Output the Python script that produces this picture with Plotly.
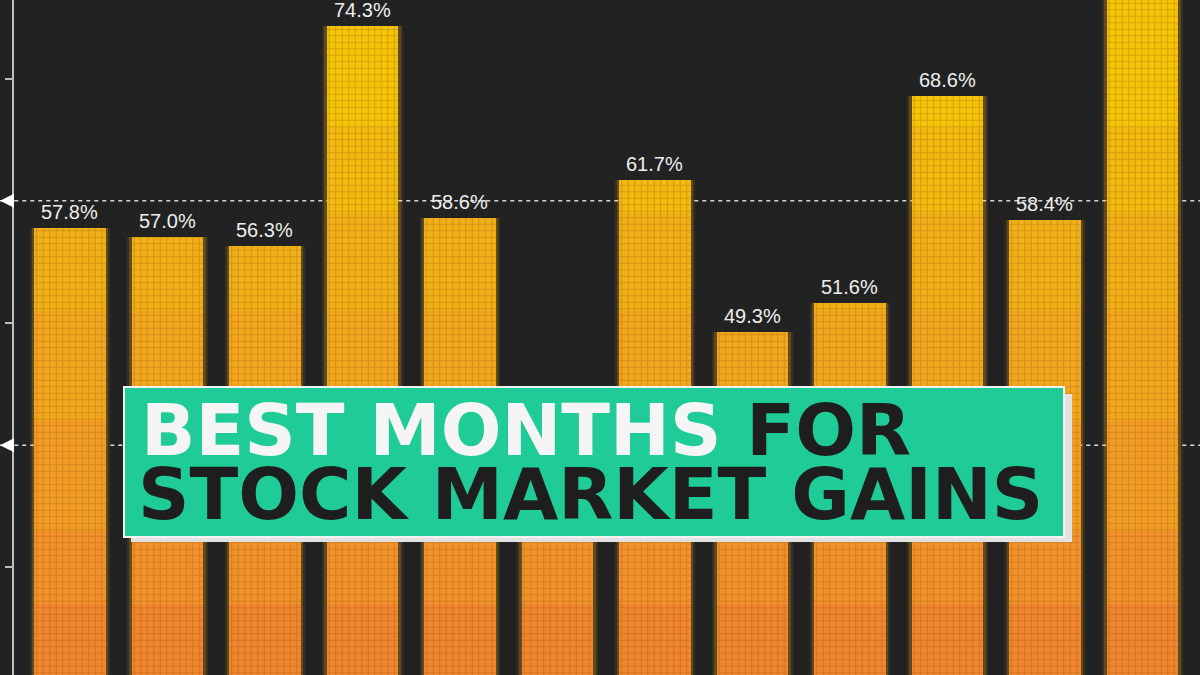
import plotly.graph_objects as go

# ---------------- data ----------------
months = ["Jan", "Feb", "Mar", "Apr", "May", "Jun",
          "Jul", "Aug", "Sep", "Oct", "Nov", "Dec"]
pct_up = [57.8, 57.0, 56.3, 74.3, 58.6, 41.0,
          61.7, 49.3, 51.6, 68.6, 58.4, 79.0]
# labels as visible in the picture (Jun hidden under the title, Dec off the top)
labels = ["57.8%", "57.0%", "56.3%", "74.3%", "58.6%", None,
          "61.7%", "49.3%", "51.6%", "68.6%", "58.4%", None]
ref_lines = [40, 60]
tick_vals = [30, 40, 50, 60, 70]

# ---------------- style ----------------
BG = "#222222"
W, H = 1200, 675
ML = 14
PW = W - ML
Y_RANGE = [21.19, 76.43]
X_RANGE = [-0.574, 11.59]
BAR_W = 0.73

# colour bands (level where each band starts, colour)
BANDS = [(0, "#F0862F"), (27, "#F1922C"), (33, "#F29E26"), (42, "#F1A81F"),
         (51, "#F0B118"), (59, "#F1BB10"), (66, "#F3C508")]


def px_x(px):
    return (px - ML) / PW


def px_y(py):
    return 1 - py / H


fig = go.Figure()

# soft glow behind the bars
for extra, alpha in [(0.10, 0.10), (0.055, 0.22)]:
    fig.add_trace(go.Bar(
        x=months, y=pct_up, width=BAR_W + extra,
        marker=dict(color=f"rgba(245,175,25,{alpha})", line=dict(width=0)),
        hoverinfo="skip", showlegend=False))

for lvl, col in BANDS:
    heights = [max(v - lvl, 0) for v in pct_up]
    fig.add_trace(go.Bar(
        x=months, y=heights, base=lvl, width=BAR_W,
        marker=dict(color=col, line=dict(width=0)),
        hoverinfo="skip", showlegend=False))

# grid pattern overlay
fig.add_trace(go.Bar(
    x=months, y=pct_up, width=BAR_W,
    marker=dict(color="rgba(0,0,0,0)", line=dict(width=0),
                pattern=dict(shape="+", size=6.5, solidity=0.3,
                             fgcolor="rgba(150,70,0,0.6)",
                             bgcolor="rgba(0,0,0,0)", fillmode="overlay")),
    hoverinfo="skip", showlegend=False))

shapes = []
for lv in ref_lines:
    shapes.append(dict(type="line", xref="paper", yref="y", x0=-0.02, x1=1,
                       y0=lv, y1=lv, layer="below",
                       line=dict(color="#D8D8D8", width=1.5, dash="4px,4px")))
    shapes.append(dict(type="path", xref="paper", yref="y",
                       xsizemode="pixel", ysizemode="pixel",
                       xanchor=0, yanchor=lv,
                       path="M 0 -7 L -14 0 L 0 7 Z",
                       fillcolor="#FFFFFF", line=dict(width=0), layer="above"))

# title shadow (3D edge)
shapes.append(dict(type="rect", xref="paper", yref="paper",
                   x0=px_x(131), x1=px_x(1072), y0=px_y(542), y1=px_y(394),
                   fillcolor="#E2E2E2", line=dict(width=0), layer="above"))

annotations = []
for m, v, t in zip(months, pct_up, labels):
    if t is None:
        continue
    annotations.append(dict(x=m, y=v, xref="x", yref="y", text=t,
                            showarrow=False, yanchor="bottom", yshift=4,
                            borderpad=0,
                            font=dict(family="Liberation Sans", size=20,
                                      color="#EEEEEE")))

# title box
annotations.append(dict(x=px_x(123), y=px_y(386), xref="paper", yref="paper",
                        xanchor="left", yanchor="top", text=" ",
                        showarrow=False, width=938, height=148, borderpad=0,
                        bgcolor="#1FCB96", bordercolor="#F2F2F2", borderwidth=2))
TFONT = dict(family="DejaVu Sans", size=71.5, color="#1E1E1E", weight="bold")
annotations.append(dict(x=px_x(139), y=px_y(430), xref="paper", yref="paper",
                        xanchor="left", yanchor="middle", showarrow=False,
                        height=62, valign="middle",
                        text='<span style="color:#F5F5F5">BEST MONTHS</span> FOR',
                        font=TFONT))
annotations.append(dict(x=px_x(136), y=px_y(494), xref="paper", yref="paper",
                        xanchor="left", yanchor="middle", showarrow=False,
                        height=62, valign="middle",
                        text="STOCK MARKET GAINS", font=TFONT))

fig.update_layout(
    width=W, height=H,
    margin=dict(l=ML, r=0, t=0, b=0),
    paper_bgcolor=BG, plot_bgcolor=BG,
    barmode="overlay", bargap=0,
    showlegend=False,
    shapes=shapes, annotations=annotations,
    xaxis=dict(range=X_RANGE, showticklabels=False, showgrid=False,
               zeroline=False, ticks="", fixedrange=True),
    yaxis=dict(range=Y_RANGE, showgrid=False, zeroline=False,
               showline=True, linecolor="#BDBDBD", linewidth=1.5,
               ticks="outside", ticklen=7, tickwidth=1.5, tickcolor="#BDBDBD",
               tickvals=tick_vals, showticklabels=False, fixedrange=True),
)

fig.write_html("out.html", config={"displayModeBar": False},
               post_script="document.body.style.margin='0';"
                           "document.body.style.overflow='hidden';")
